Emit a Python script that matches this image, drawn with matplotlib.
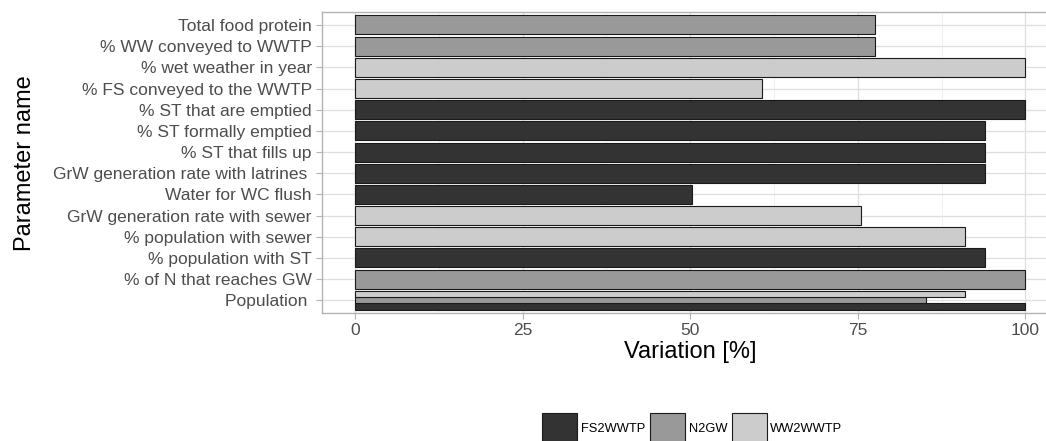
import matplotlib.pyplot as plt
from matplotlib.patches import Patch
import numpy as np

plt.rcParams['font.family'] = ['Liberation Sans', 'DejaVu Sans']

# rows of the chart, bottom to top
categories = ["Population ", "% of N that reaches GW", "% population with ST",
              "% population with sewer", "GrW generation rate with sewer",
              "Water for WC flush", "GrW generation rate with latrines ",
              "% ST that fills up", "% ST formally emptied", "% ST that are emptied",
              "% FS conveyed to the WWTP", "% wet weather in year",
              "% WW conveyed to WWTP", "Total food protein"]

groups = ["FS2WWTP", "N2GW", "WW2WWTP"]
colors = {"FS2WWTP": "#333333", "N2GW": "#999999", "WW2WWTP": "#CCCCCC"}

# long format data
param = ["Population ", "Population ", "Population ",
         "% of N that reaches GW", "% population with ST", "% population with sewer",
         "GrW generation rate with sewer", "Water for WC flush",
         "GrW generation rate with latrines ", "% ST that fills up",
         "% ST formally emptied", "% ST that are emptied",
         "% FS conveyed to the WWTP", "% wet weather in year",
         "% WW conveyed to WWTP", "Total food protein"]
group = ["FS2WWTP", "N2GW", "WW2WWTP",
         "N2GW", "FS2WWTP", "WW2WWTP",
         "WW2WWTP", "FS2WWTP",
         "FS2WWTP", "FS2WWTP",
         "FS2WWTP", "FS2WWTP",
         "WW2WWTP", "WW2WWTP",
         "N2GW", "N2GW"]
variation = [100, 85.1, 91.0,
             100, 94.0, 91.0,
             75.5, 50.2,
             94.0, 94.0,
             94.0, 100,
             60.7, 100,
             77.6, 77.6]

fig = plt.figure(figsize=(10.46, 4.41), dpi=100)
ax = fig.add_axes([0.3074, 0.2902, 0.705, 0.682])

# dodge bars that share a parameter
width = 0.9
for cat_i, cat in enumerate(categories):
    idx = [i for i, p in enumerate(param) if p == cat]
    n = len(idx)
    h = width / n
    for k, i in enumerate(idx):
        y = cat_i + 1 - width / 2 + h * (k + 0.5)
        ax.barh(y, variation[i], height=h, color=colors[group[i]],
                edgecolor="#1a1a1a", linewidth=0.8, zorder=3)

ax.set_xlim(-5, 105)
ax.set_ylim(0.4, len(categories) + 0.6)
ax.set_xticks([0, 25, 50, 75, 100])
ax.set_xticks([12.5, 37.5, 62.5, 87.5], minor=True)
ax.set_yticks(np.arange(1, len(categories) + 1))
ax.set_yticklabels(categories)

ax.grid(which="major", color="#DEDEDE", linewidth=0.9, zorder=0)
ax.grid(which="minor", axis="x", color="#EEEEEE", linewidth=0.6, zorder=0)
ax.set_axisbelow(True)
for s in ax.spines.values():
    s.set_color("#B3B3B3")
    s.set_linewidth(1.0)
ax.spines["right"].set_visible(False)  # panel runs past the figure edge
ax.tick_params(which="major", color="#B3B3B3", length=4, width=0.8,
               labelsize=12.5, labelcolor="#4D4D4D", pad=3)
ax.tick_params(which="minor", length=0)

ax.set_xlabel("Variation [%]", fontsize=17, labelpad=2)
ax.set_ylabel("Parameter name", fontsize=17, labelpad=12)

handles = [Patch(facecolor=colors[g], edgecolor="#1a1a1a", linewidth=0.8) for g in groups]
fig.legend(handles, groups, loc="center", bbox_to_anchor=(0.662, 0.028), ncol=3,
           frameon=False, fontsize=9.3, handlelength=2.7, handleheight=3.4,
           handletextpad=0.3, columnspacing=0.35)

fig.savefig("out.png", dpi=100)
